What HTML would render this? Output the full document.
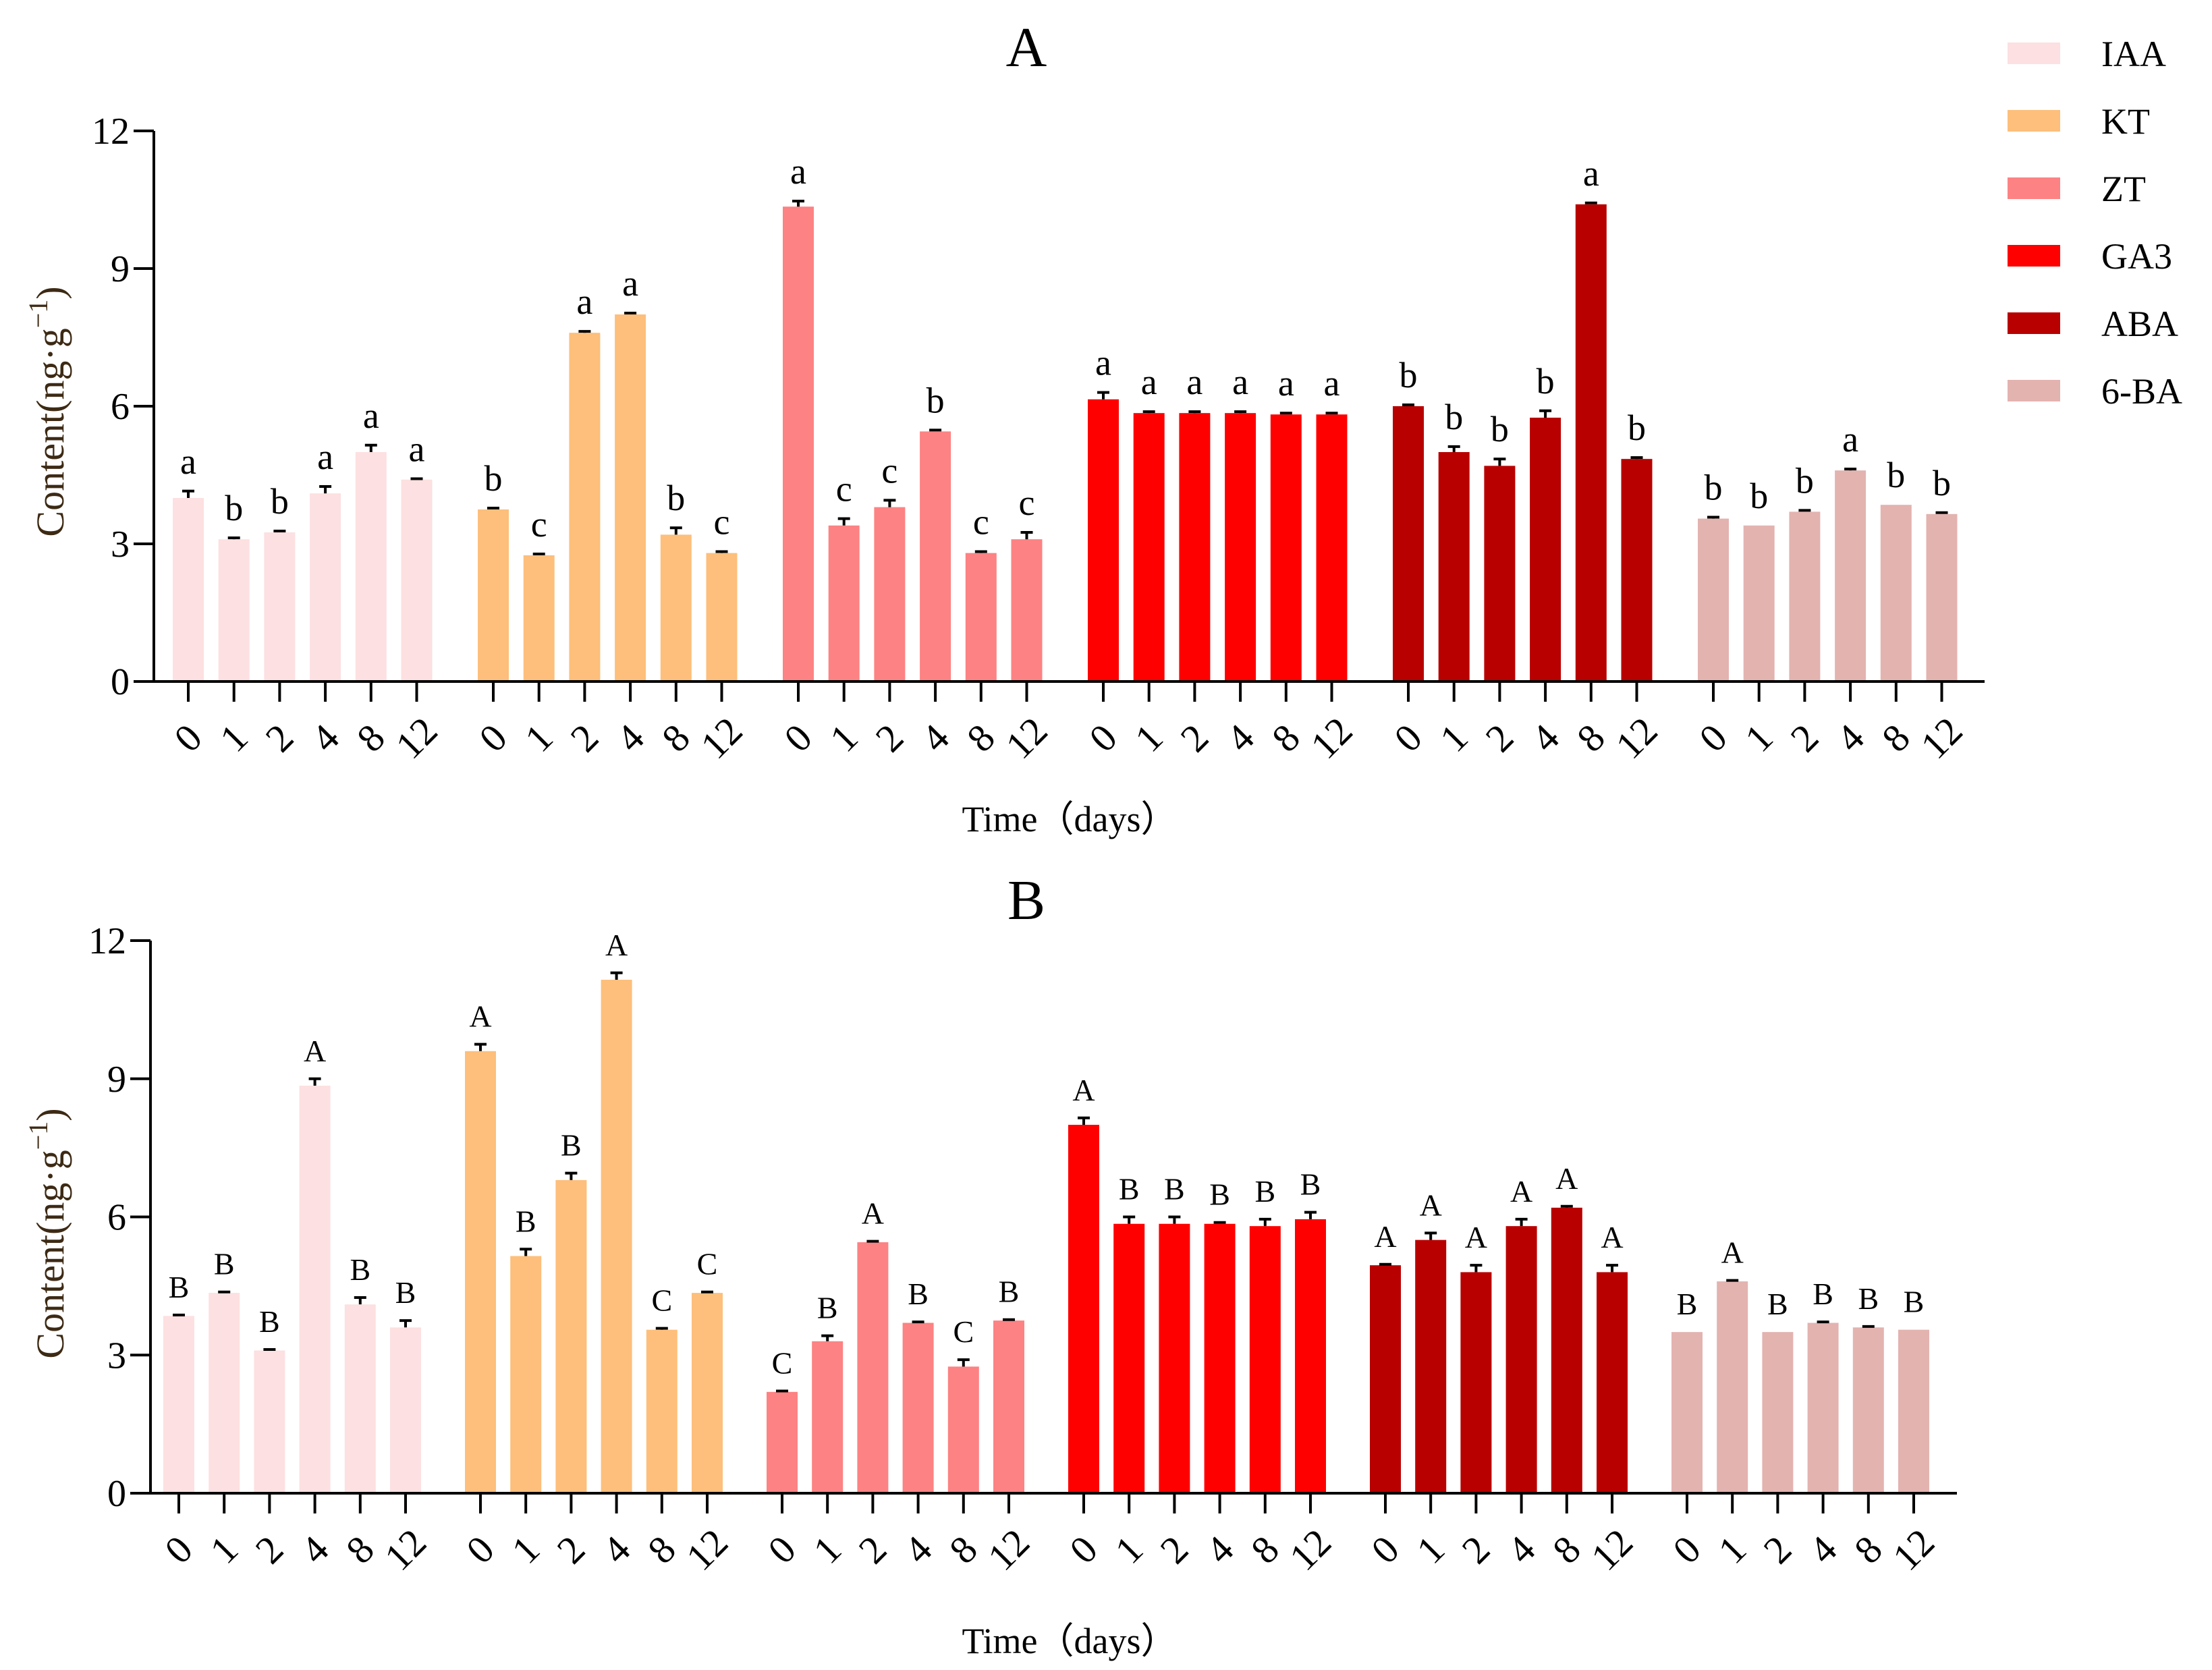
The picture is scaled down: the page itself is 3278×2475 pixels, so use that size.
<!DOCTYPE html>
<html><head><meta charset="utf-8"><style>
html,body{margin:0;padding:0;background:#fff}
svg{display:block;font-family:"Liberation Serif",serif}
</style></head><body>
<svg id="chart" width="3278" height="2475" viewBox="0 0 3278 2475"></svg>
<script>
const groups=["IAA","KT","ZT","GA3","ABA","6-BA"];
const colors=["#fde0e1","#fdbf7b","#fd8283","#ff0000","#b80000","#e3b3b0"];
const days=["0","1","2","4","8","12"];
const yTicks=[0,3,6,9,12];
const aIAA=[4.0,3.1,3.25,4.1,5.0,4.4], aIAAe=[0.15,0.03,0.03,0.15,0.15,0.02], aIAAl=["a","b","b","a","a","a"];
const aKT=[3.75,2.75,7.6,8.0,3.2,2.8], aKTe=[0.03,0.03,0.03,0.03,0.15,0.03], aKTl=["b","c","a","a","b","c"];
const aZT=[10.35,3.4,3.8,5.45,2.8,3.1], aZTe=[0.12,0.15,0.15,0.03,0.03,0.15], aZTl=["a","c","c","b","c","c"];
const aGA=[6.15,5.85,5.85,5.85,5.82,5.82], aGAe=[0.15,0.03,0.03,0.03,0.03,0.03], aGAl=["a","a","a","a","a","a"];
const aABA=[6.0,5.0,4.7,5.75,10.4,4.85], aABAe=[0.03,0.12,0.15,0.15,0.03,0.03], aABAl=["b","b","b","b","a","b"];
const aBA=[3.55,3.4,3.7,4.6,3.85,3.65], aBAe=[0.03,0,0.03,0.03,0,0.03], aBAl=["b","b","b","a","b","b"];
const bIAA=[3.85,4.35,3.1,8.85,4.1,3.6], bIAAe=[0.02,0.02,0.02,0.15,0.15,0.15], bIAAl=["B","B","B","A","B","B"];
const bKT=[9.6,5.15,6.8,11.15,3.55,4.35], bKTe=[0.15,0.15,0.15,0.15,0.03,0.02], bKTl=["A","B","B","A","C","C"];
const bZT=[2.2,3.3,5.45,3.7,2.75,3.75], bZTe=[0.02,0.12,0.02,0.02,0.15,0.02], bZTl=["C","B","A","B","C","B"];
const bGA=[8.0,5.85,5.85,5.85,5.8,5.95], bGAe=[0.15,0.15,0.15,0.03,0.15,0.15], bGAl=["A","B","B","B","B","B"];
const bABA=[4.95,5.5,4.8,5.8,6.2,4.8], bABAe=[0.02,0.15,0.15,0.15,0.03,0.15], bABAl=["A","A","A","A","A","A"];
const bBA=[3.5,4.6,3.5,3.7,3.6,3.55], bBAe=[0,0.02,0,0.02,0.02,0], bBAl=["B","A","B","B","B","B"];

const NS="http://www.w3.org/2000/svg";
const svg=document.getElementById("chart");
function mk(tag,attrs,parent,text){const e=document.createElementNS(NS,tag);for(const k in attrs)e.setAttribute(k,attrs[k]);if(text!==undefined)e.textContent=text;(parent||svg).appendChild(e);return e;}

function panel(cfg){
  const g=mk("g",{});
  
  
  const y=v=>cfg.y0-(v/12)*(cfg.y0-cfg.y12);
  const x=(gi,di)=>cfg.x0+gi*cfg.G+di*cfg.s;
  cfg.vals.forEach((arr,gi)=>{
    arr.forEach((v,di)=>{
      const cx=x(gi,di);
      const r=mk("rect",{x:cx-23,y:y(v),width:46,height:cfg.y0-y(v),fill:colors[gi]},g);
      
      
      const e=cfg.errs[gi][di];
      if(e>0.005){
        const et=y(v+e);
        const l=mk("path",{d:`M${cx} ${y(v)}V${et}M${cx-9} ${et}H${cx+9}`,stroke:"#000","stroke-width":4,fill:"none"},g);
        
        
      }
      const t=mk("text",{x:cx,y:y(v+e)-cfg.loff,"text-anchor":"middle","font-size":cfg.lfs,fill:"#000"},g,cfg.labs[gi][di]);
      
      
      const tk=mk("line",{x1:cx,x2:cx,y1:cfg.y0,y2:cfg.y0+30,stroke:"#000","stroke-width":4},g);
      
      
      const lx=cx+4, ly=cfg.y0+88;
      const tl=mk("text",{x:lx,y:ly,"text-anchor":"middle","dominant-baseline":"middle","font-size":58,transform:`rotate(-45 ${lx} ${ly})`},g,days[di]);
      
      
    });
  });
  const ax=mk("path",{d:`M${cfg.ax} ${cfg.y12}V${cfg.y0}H${cfg.xend}`,stroke:"#000","stroke-width":4,fill:"none"},g);
  
  
  yTicks.forEach(v=>{
    const tk=mk("line",{x1:cfg.ax-30,x2:cfg.ax,y1:y(v),y2:y(v),stroke:"#000","stroke-width":4},g);
    
    
    const t=mk("text",{x:cfg.ax-36,y:y(v)+19,"text-anchor":"end","font-size":56},g,String(v));
    
    
  });
  const yt=mk("text",{x:0,y:0,"text-anchor":"middle","font-size":58,fill:"#3d2a14",transform:`translate(94 ${cfg.ymid}) rotate(-90)`},g);
  
  
  yt.innerHTML='Content(ng·g<tspan dy="-24" font-size="40">−1</tspan><tspan dy="24">)</tspan>';
  const xt=mk("text",{x:1585,y:cfg.xty,"text-anchor":"middle","font-size":54},g,cfg.xtitle);
  
  
  const tt=mk("text",{x:1521,y:cfg.titley,"text-anchor":"middle","font-size":84},g,cfg.id);
  
  
}
panel({id:"A",x0:279,G:452,s:67.7,y0:1010,y12:194,ax:228,xend:2941,ymid:610,xty:1232,titley:98,xtitle:"Time（days）",lfs:54,loff:26,
  vals:[aIAA,aKT,aZT,aGA,aABA,aBA],errs:[aIAAe,aKTe,aZTe,aGAe,aABAe,aBAe],labs:[aIAAl,aKTl,aZTl,aGAl,aABAl,aBAl]});
panel({id:"B",x0:265,G:447,s:67.2,y0:2213,y12:1394,ax:223,xend:2900,ymid:1828,xty:2450,titley:1362,xtitle:"Time（days）",lfs:46,loff:26,
  vals:[bIAA,bKT,bZT,bGA,bABA,bBA],errs:[bIAAe,bKTe,bZTe,bGAe,bABAe,bBAe],labs:[bIAAl,bKTl,bZTl,bGAl,bABAl,bBAl]});
groups.forEach((nm,i)=>{
  const yy=80+i*100;
  const r=mk("rect",{x:2975,y:yy-17,width:78,height:32,fill:colors[i]});
  
  
  const t=mk("text",{x:3114,y:yy+18,"font-size":54},svg,nm);
  
  
});
</script>
</body></html>
